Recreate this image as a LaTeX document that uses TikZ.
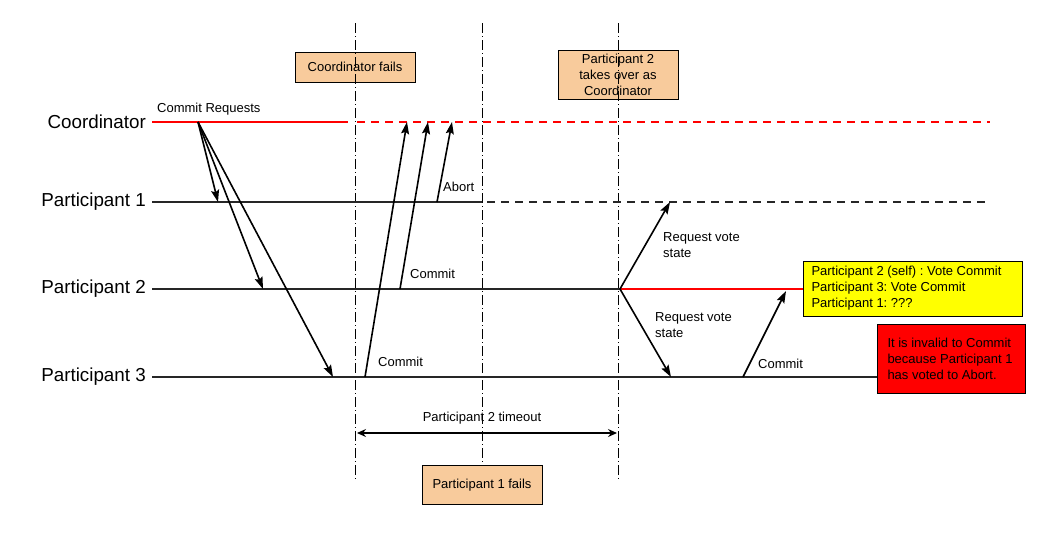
\documentclass[tikz,border=0pt]{standalone}
\usepackage{fontspec}
\setmainfont{Liberation Sans}
\frenchspacing
\usetikzlibrary{
  arrows.meta,
  positioning,
  calc
}
\definecolor{tpcPeach}{HTML}{F8CB9C}
\definecolor{tpcYellow}{HTML}{FFFF00}
\definecolor{tpcRed}{HTML}{FF0000}
\tikzset{
  lane/.style={line width=2pt, black!85},
  lanered/.style={line width=2pt, tpcRed},
  lanedown/.style={lane, dash pattern=on 8pt off 6pt},
  laneredown/.style={lanered, dash pattern=on 8pt off 6pt},
  msg/.style={-{Stealth[length=12pt, width=8pt, inset=2pt]}, line width=1.6pt},
  span/.style={{Stealth[length=9pt, width=8pt, inset=3pt]}-{Stealth[length=9pt, width=8pt, inset=3pt]}, line width=1.2pt},
  marker/.style={line width=0.8pt, dash pattern=on 10pt off 3pt on 1pt off 3pt},
  lanelabel/.style={font=\fontsize{18.8}{20}\selectfont, anchor=east, inner sep=0pt},
  msglabel/.style={font=\fontsize{13}{16}\selectfont, anchor=west, inner sep=0pt, align=left},
  event/.style={
    draw, line width=1pt, fill=tpcPeach, font=\fontsize{13}{16}\selectfont,
    align=center, minimum width=120pt
  },
  note/.style={draw, line width=1pt, font=\fontsize{13}{16}\selectfont, align=flush left, anchor=west}
}

\begin{document}
\begin{tikzpicture}[x=1pt, y=-1pt]
  \useasboundingbox (0,0) rectangle (1037,539);

  % lane names
  \foreach \n/\y/\t in {co/122/Coordinator, pa/202/Participant 1, pb/289/Participant 2, pc/377/Participant 3}{
    \node[lanelabel] (\n) at (146,\y) {\t};
  }

  % points on the lanes
  \foreach \n/\x/\y in {co0/152/122, cof/348/122, cod/357/122, coe/990/122,
                        pa0/152/202, paf/482/202, pad/487/202, pae/987/202,
                        pb0/152/289, pbt/620/289, pc0/152/377,
                        cr/198/122, pa1/218/202, pb1/263/289, pc1/333/377,
                        pc2/365/377, co2/407/122, pb2/400/289, co3/428/122,
                        pa2/437/202, co4/452/122, pa3/670/202, pc3/671/377,
                        pc4/743/377, pb3/786/291, ta/357/433, tb/617/433}{
    \coordinate (\n) at (\x,\y);
  }

  % events and notes
  \node[event, minimum height=30pt] (cfail) at (355,67) {Coordinator fails};
  \node[event, minimum height=48pt] (takeover) at (618,75) {Participant 2\\takes over as\\Coordinator};
  \node[event, minimum height=39pt] (pfail) at (482,485) {Participant 1 fails};
  \node[note, fill=tpcYellow, text width=203pt, minimum height=55pt, inner xsep=8pt] (votes) at (803,288.5)
    {Participant 2 (self) : Vote Commit\\Participant 3: Vote Commit\\Participant 1: ???};
  \node[note, fill=tpcRed, text width=128pt, minimum height=69pt, inner xsep=10pt] (invalid) at (877,358.5)
    {It is invalid to Commit\\because Participant 1\\has voted to Abort.};

  % failure markers
  \draw[marker] (355,23) -- (355,482);
  \draw[marker] (482,23) -- (pfail.north);
  \draw[marker] (618,23) -- (618,482);

  % lanes
  \draw[lanered] (co0) -- (cof);
  \draw[laneredown] (cod) -- (coe);
  \draw[lane] (pa0) -- (paf);
  \draw[lanedown] (pad) -- (pae);
  \draw[lane] (pb0) -- (pbt);
  \draw[lanered] (pbt) -- (pbt -| votes.west);
  \draw[lane] (pc0) -- (pc0 -| invalid.west);

  % messages
  \foreach \s/\e in {cr/pa1, cr/pb1, cr/pc1, pc2/co2, pb2/co3, pa2/co4, pbt/pa3, pbt/pc3, pc4/pb3}{
    \draw[msg] (\s) -- (\e);
  }
  \draw[span] (ta) -- (tb);

  % message labels
  \node[msglabel] (lreq) at (157,109) {Commit Requests};
  \node[msglabel] (lc3) at (378,362) {Commit};
  \node[msglabel] (lc2) at (410,274) {Commit};
  \node[msglabel] (lab) at (443,187) {Abort};
  \node[msglabel] (lrv1) at (663,245) {Request vote\\state};
  \node[msglabel] (lrv2) at (655,325) {Request vote\\state};
  \node[msglabel] (lc4) at (758,364) {Commit};
  \node[msglabel, anchor=center] (lto) at (482,418) {Participant 2 timeout};
\end{tikzpicture}
\end{document}
